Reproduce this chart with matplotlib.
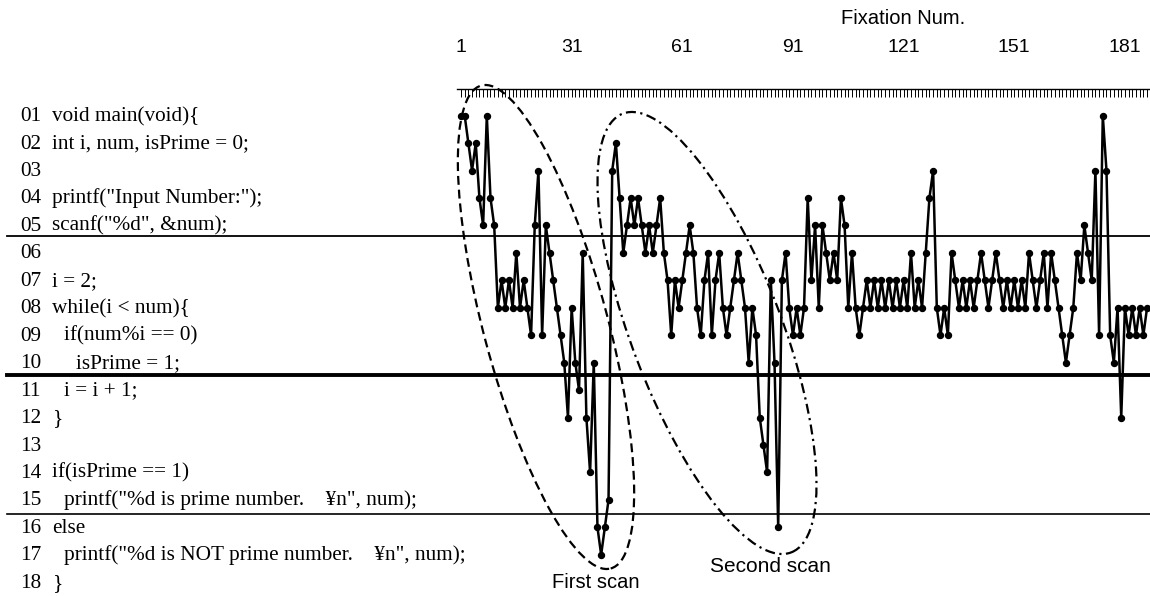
import numpy as np
import matplotlib
matplotlib.use("Agg")
import matplotlib.pyplot as plt
from matplotlib.patches import Ellipse
from matplotlib.transforms import blended_transform_factory
from matplotlib.ticker import FixedLocator

# ---------------- data ----------------
code_numbers = ["01", "02", "03", "04", "05", "06", "07", "08", "09",
                "10", "11", "12", "13", "14", "15", "16", "17", "18"]
code_lines = [
    "void main(void){",
    "int i, num, isPrime = 0;",
    "",
    'printf("Input Number:");',
    'scanf("%d", &num);',
    "",
    "i = 2;",
    "while(i < num){",
    "if(num%i == 0)",
    "isPrime = 1;",
    "i = i + 1;",
    "}",
    "",
    "if(isPrime == 1)",
    'printf("%d is prime number.    \u00a5n", num);',
    "else",
    'printf("%d is NOT prime number.    \u00a5n", num);',
    "}",
]
code_indent = [0, 0, 0, 0, 0, 0, 0, 0, 1, 2, 1, 0, 0, 0, 1, 0, 1, 0]

# line number fixated at each fixation
fix_part_a = [1, 1, 2, 3, 2, 4, 5, 1, 4, 5, 8, 7, 8, 7, 8, 6, 8, 7, 8, 9,
              5, 3, 9, 5, 6, 7, 8, 9, 10, 12, 8]
fix_part_b = [10, 11, 6, 12, 14, 10, 16, 17, 16, 15, 3, 2]
fix_part_c = [4, 6, 5, 4, 5, 4, 5, 6, 5, 6, 5, 4, 6, 7, 9, 7, 8, 7, 6, 5]
fix_part_d = [6, 8, 9, 7, 6, 9, 7, 6, 8, 9, 8, 7, 6, 7, 8, 10, 8, 9, 12, 13,
              14, 7, 10, 16, 7, 6, 8, 9, 8, 9, 8]
fix_part_e = [4, 7, 5, 8, 5, 6, 7, 6, 7, 4, 5, 8, 6, 8, 9, 8, 7, 8, 7, 8,
              7, 8, 7, 8, 7, 8, 7, 8, 6, 8]
fix_part_f = [7, 8, 6, 4, 3, 8, 9, 8, 9, 6, 7, 8, 7, 8, 7, 8, 7, 6, 7, 8,
              7, 6, 7, 8, 7, 8, 7, 8, 7, 8, 6, 7, 8, 7, 6, 8, 6, 7, 8, 9,
              10, 9, 8, 6, 7, 5, 6, 7, 3, 9, 1, 3, 9, 10, 8, 12, 8, 9, 8, 9,
              8, 9, 8]
fixation_lines = (fix_part_a + fix_part_b + fix_part_c + fix_part_d
                  + fix_part_e + fix_part_f)

tick_values = [1, 31, 61, 91, 121, 151, 181]
section_bounds = [5.4, 10.45, 15.5]
section_widths = [1.3, 2.8, 1.2]

# ---------------- figure ----------------
W, H = 1150, 596
fig = plt.figure(figsize=(W / 100, H / 100), dpi=100)
ax_left = 457.3
ax_top = 89
ax = fig.add_axes([ax_left / W, 0.0, (W - ax_left) / W, (H - ax_top) / H])

sans = ["Liberation Sans", "DejaVu Sans"]
serif = ["Liberation Serif", "DejaVu Serif"]

fix_num = np.arange(1, len(fixation_lines) + 1)
ax.plot(fix_num, fixation_lines, color="black", lw=1.8, marker="o",
        ms=4.3, mfc="black", mec="black", clip_on=False, zorder=3)

ax.set_xlim(0, 187.8)
ax.set_ylim(18.5, 0.03)

ax.xaxis.tick_top()
ax.xaxis.set_label_position("top")
ax.set_xticks(tick_values)
ax.set_xticklabels([str(t) for t in tick_values], fontfamily=sans)
ax.xaxis.set_minor_locator(FixedLocator(fix_num))
ax.tick_params(axis="x", which="both", direction="in", length=5.5,
               width=0.7, top=True, bottom=False, labeltop=True,
               labelbottom=False, pad=24, labelsize=14)
ax.set_xlabel("Fixation Num.", fontsize=14.5, fontfamily=sans)
ax.xaxis.set_label_coords((903 - ax_left) / (W - ax_left), (H - 18) / (H - ax_top))
ax.xaxis.label.set_va("center")
ax.set_yticks([])
for s in ["left", "right", "bottom"]:
    ax.spines[s].set_visible(False)
ax.spines["top"].set_linewidth(1.0)

trans = blended_transform_factory(fig.transFigure, ax.transData)

# code listing
for i, (num, code, ind) in enumerate(zip(code_numbers, code_lines, code_indent)):
    row = i + 1
    ax.text(20 / W, row + 0.2, num, transform=trans, ha="left", va="baseline",
            fontsize=15.3, fontfamily=serif)
    if code:
        ax.text((52 + ind * 12) / W, row + 0.2, code, transform=trans,
                ha="left", va="baseline", fontsize=15.3, fontfamily=serif)

# section separators
for b, lw in zip(section_bounds, section_widths):
    ax.plot([7 / W, 1.0], [b, b], transform=trans, color="black", lw=lw,
            clip_on=False, zorder=2)

# scan ellipses (annotation, figure inches)
e1 = Ellipse((5.46, (H - 327) / 100), 1.24, 5.0, angle=15,
             transform=fig.dpi_scale_trans, fill=False, ec="black", lw=1.6,
             ls=(0, (4, 2.2)))
e2 = Ellipse((7.07, (H - 333) / 100), 1.5, 4.7, angle=21,
             transform=fig.dpi_scale_trans, fill=False, ec="black", lw=1.6,
             ls=(0, (4.5, 2, 1, 2)))
fig.add_artist(e1)
fig.add_artist(e2)

fig.text(596 / W, 1 - 583 / H, "First scan", ha="center", va="center",
         fontsize=14.5, fontfamily=sans)
fig.text(770 / W, 1 - 566 / H, "Second scan", ha="center", va="center",
         fontsize=15, fontfamily=sans)

fig.savefig("out.png", dpi=100)
